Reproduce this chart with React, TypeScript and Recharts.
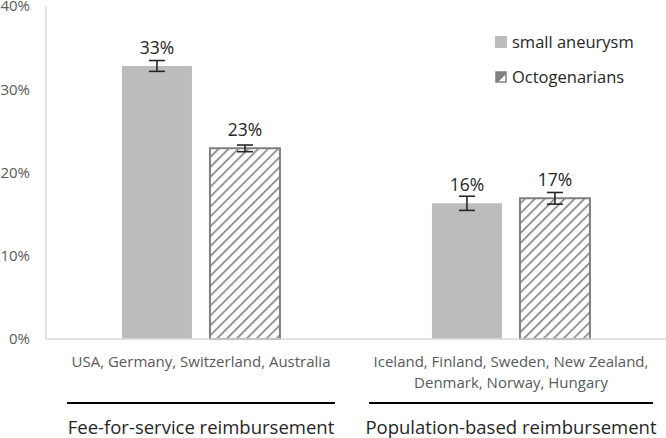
import React from "react";
import { BarChart, Bar, XAxis, YAxis, ErrorBar, LabelList } from "recharts";

const categoryLines: string[][] = [
  ["USA, Germany, Switzerland, Australia"],
  ["Iceland, Finland, Sweden, New Zealand,", "Denmark, Norway, Hungary"],
];
const groupLabels: string[] = ["Fee-for-service reimbursement", "Population-based reimbursement"];
const smallAneurysm: number[] = [32.8, 16.3];
const smallAneurysmErr: number[] = [0.65, 0.85];
const octogenarians: number[] = [22.9, 16.9];
const octogenariansErr: number[] = [0.4, 0.7];
const yTicks: number[] = [0, 10, 20, 30, 40];
const seriesNames: string[] = ["small aneurysm", "Octogenarians"];

const data = categoryLines.map((lines, i) => ({
  name: lines.join(" "),
  small: smallAneurysm[i],
  smallErr: smallAneurysmErr[i],
  octo: octogenarians[i],
  octoErr: octogenariansErr[i],
}));

const FONT = "'Open Sans', sans-serif";
const groupHalfWidths = [134, 142];

const CategoryTick = (props: any) => {
  const { x, y, payload } = props;
  const i = payload.index;
  const lines = categoryLines[i] || [];
  const hw = groupHalfWidths[i];
  return (
    <g>
      {lines.map((l, k) => (
        <text key={k} x={x} y={y + 28} dy={k * 21} textAnchor="middle" fontSize={15} fill="#595959" fontFamily={FONT}>
          {l}
        </text>
      ))}
      <line x1={x - hw} x2={x + hw} y1={y + 64} y2={y + 64} stroke="#000" strokeWidth={2} />
      <text x={x} y={y + 95} textAnchor="middle" fontSize={18.5} fill="#262626" fontFamily={FONT}>
        {groupLabels[i]}
      </text>
    </g>
  );
};

const LegendBox = () => (
  <div style={{ position: "absolute", left: 495, top: 31, fontFamily: FONT, fontSize: 16.5, color: "#262626", lineHeight: "20px" }}>
    <div style={{ display: "flex", alignItems: "center", height: 22 }}>
      <svg width={12} height={12} style={{ marginRight: 5 }}>
        <rect x={0} y={0} width={12} height={12} fill="#bcbcbc" />
      </svg>
      {seriesNames[0]}
    </div>
    <div style={{ display: "flex", alignItems: "center", height: 22, marginTop: 13 }}>
      <svg width={12} height={12} style={{ marginRight: 5 }}>
        <rect x={1} y={1} width={10} height={10} fill="url(#hatchLegend)" stroke="#7f7f7f" strokeWidth={1.5} />
      </svg>
      {seriesNames[1]}
    </div>
  </div>
);

export default function App() {
  return (
    <div style={{ position: "absolute", left: 0, top: 0, width: 666, height: 438, background: "#fff" }}>
      <svg width={0} height={0} style={{ position: "absolute" }}>
        <defs>
          <pattern id="hatch" patternUnits="userSpaceOnUse" width={7} height={7} patternTransform="rotate(45)">
            <rect x={0} y={0} width={7} height={7} fill="#fff" />
            <line x1={0} y1={0} x2={0} y2={7} stroke="#7f7f7f" strokeWidth={3.2} />
          </pattern>
          <pattern id="hatchLegend" patternUnits="userSpaceOnUse" width={20} height={20} patternTransform="rotate(45)">
            <rect x={0} y={0} width={20} height={20} fill="#fff" />
            <rect x={0} y={0} width={10} height={20} fill="#7f7f7f" />
          </pattern>
        </defs>
      </svg>
      <BarChart
        width={666}
        height={438}
        data={data}
        margin={{ top: 6, right: 0, bottom: 0, left: 0 }}
        barCategoryGap="24.5%"
        barGap={18}
      >
        <YAxis
          domain={[0, 40]}
          ticks={yTicks}
          tickFormatter={(v: number) => `${v}%`}
          width={46}
          tickLine={false}
          tickSize={0}
          tickMargin={16}
          axisLine={{ stroke: "#d9d9d9", strokeWidth: 1.5 }}
          tick={{ fontSize: 15, fill: "#595959", fontFamily: FONT }}
          interval={0}
        />
        <XAxis
          dataKey="name"
          height={99}
          tickLine={false}
          tickSize={0}
          tickMargin={0}
          interval={0}
          axisLine={{ stroke: "#d9d9d9", strokeWidth: 1.5 }}
          tick={<CategoryTick />}
        />
        <Bar dataKey="small" name={seriesNames[0]} fill="#bcbcbc" isAnimationActive={false}>
          <ErrorBar dataKey="smallErr" width={8} stroke="#262626" strokeWidth={1.6} direction="y" />
          <LabelList
            dataKey="small"
            position="top"
            offset={12}
            formatter={(v: any) => `${Math.round(v)}%`}
            style={{ fontSize: 17.5, fill: "#262626", fontFamily: FONT }}
          />
        </Bar>
        <Bar
          dataKey="octo"
          name={seriesNames[1]}
          fill="url(#hatch)"
          stroke="#7f7f7f"
          strokeWidth={2}
          isAnimationActive={false}
        >
          <ErrorBar dataKey="octoErr" width={8} stroke="#262626" strokeWidth={1.6} direction="y" />
          <LabelList
            dataKey="octo"
            position="top"
            offset={12}
            formatter={(v: any) => `${Math.round(v)}%`}
            style={{ fontSize: 17.5, fill: "#262626", fontFamily: FONT }}
          />
        </Bar>
      </BarChart>
      <LegendBox />
    </div>
  );
}
